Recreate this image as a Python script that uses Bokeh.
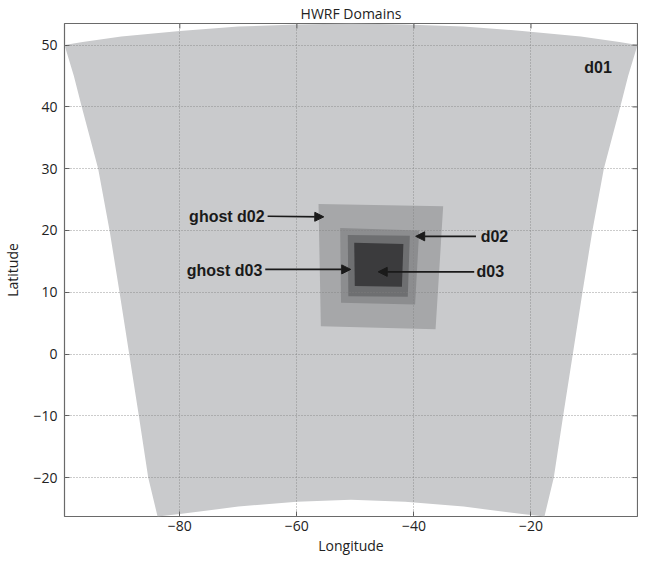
#HWRF nested domains drawn with bokeh

import math
from bokeh.plotting import figure
from bokeh.models import Range1d, FixedTicker, Arrow, NormalHead, ColumnDataSource
from bokeh.core.properties import value
from bokeh.embed import file_html
from bokeh.resources import INLINE

#### DATA ####
#d01 outline: top edge left->right, right edge down, bottom edge right->left, left edge up
d01_lon = [-99.7, -96.6, -90.0, -80.0, -70.0, -60.0, -50.75, -41.5, -31.5, -21.5, -11.5, -4.9, -1.8,
           -3.4, -4.75, -6.15, -7.55, -9.5, -11.2, -12.85, -14.5, -16.1, -17.7,
           -21.5, -31.5, -41.5, -50.75, -60.0, -70.0, -80.0, -83.8,
           -85.4, -87.0, -88.65, -90.3, -92.0, -93.95, -95.35, -96.75, -98.1]
d01_lat = [50.0, 50.5, 51.4, 52.3, 53.0, 53.35, 53.5, 53.35, 53.0, 52.3, 51.4, 50.5, 50.0,
           45.0, 40.0, 35.0, 30.0, 20.0, 10.0, 0.0, -10.0, -20.0, -26.3,
           -25.9, -24.7, -23.9, -23.6, -23.9, -24.7, -25.9, -26.3,
           -20.0, -10.0, 0.0, 10.0, 20.0, 30.0, 35.0, 40.0, 45.0]

#nested domains (corners: top-left, top-right, bottom-right, bottom-left)
ghost_d02_lon = [-56.3, -35.0, -36.3, -55.9]
ghost_d02_lat = [24.3, 23.9, 4.0, 4.5]
d02_lon = [-52.6, -39.1, -39.8, -52.45]
d02_lat = [20.4, 20.0, 8.0, 8.3]
ghost_d03_lon = [-51.3, -40.7, -41.05, -51.2]
ghost_d03_lat = [19.25, 19.15, 9.25, 9.35]
d03_lon = [-50.2, -41.8, -42.05, -50.1]
d03_lat = [18.0, 17.8, 10.9, 11.0]

domain_colors = ["#c9cacc", "#a6a7a9", "#8c8d8f", "#6e6f71", "#3b3b3d"]

#annotation labels and arrows
label_names = ["ghost d02", "d02", "ghost d03", "d03"]
label_lon = [-65.5, -28.6, -65.9, -29.3]
label_lat = [22.3, 19.1, 13.6, 13.3]
label_align = ["right", "left", "right", "left"]
tail_lon = [-65.0, -29.4, -65.4, -29.7]
tail_lat = [22.3, 19.05, 13.7, 13.3]
tip_lon = [-55.4, -39.7, -50.8, -46.1]
tip_lat = [22.2, 19.05, 13.7, 13.3]

x_min, x_max = -99.7, -1.8
y_min, y_max = -26.3, 53.5
x_ticks = [-80, -60, -40, -20]
x_tick_labels = ["\u221280", "\u221260", "\u221240", "\u221220"]
y_ticks = [-20, -10, 0, 10, 20, 30, 40, 50]
y_tick_labels = ["\u221220", "\u221210", "0", "10", "20", "30", "40", "50"]

#### FIGURE ####
p = figure(title="HWRF Domains", width=638, height=557, output_backend="svg", toolbar_location=None,
           x_range=Range1d(x_min, x_max), y_range=Range1d(y_min, y_max),
           min_border_left=63, min_border_right=1, min_border_top=0, min_border_bottom=0)

tick_font = "Open Sans"
p.title.text_font = tick_font
p.title.text_font_size = "14px"
p.title.text_font_style = "normal"
p.title.align = "center"
p.title.standoff = 2
p.title.text_color = "#222222"

#domains, outer first
p.patch(d01_lon, d01_lat, fill_color=domain_colors[0], line_color=None)
p.patch(ghost_d02_lon, ghost_d02_lat, fill_color=domain_colors[1], line_color=None)
p.patch(d02_lon, d02_lat, fill_color=domain_colors[2], line_color=None)
p.patch(ghost_d03_lon, ghost_d03_lat, fill_color=domain_colors[3], line_color=None)
p.patch(d03_lon, d03_lat, fill_color=domain_colors[4], line_color=None)

#labels
src = ColumnDataSource(dict(x=label_lon, y=label_lat, t=label_names, a=label_align,
                            x0=tail_lon, y0=tail_lat, x1=tip_lon, y1=tip_lat))
p.text(x="x", y="y", text="t", text_align="a", text_baseline="middle", source=src,
       text_font=value("Liberation Sans"), text_font_style="bold", text_font_size="16px", text_color="#1a1a1a")
p.text(x=[-10.9], y=[46.45], text=["d01"], text_align="left", text_baseline="middle",
       text_font=value("Liberation Sans"), text_font_style="bold", text_font_size="16px", text_color="#1a1a1a")
p.add_layout(Arrow(end=NormalHead(size=9, fill_color="#1a1a1a", line_color="#1a1a1a"),
                   x_start="x0", y_start="y0", x_end="x1", y_end="y1", source=src,
                   line_color="#1a1a1a", line_width=1.6))

#tick marks on the top and right edges (half of each dash is clipped by the frame)
p.scatter(x=x_ticks, y=[y_max] * len(x_ticks), marker="dash", angle=math.pi / 2, size=10,
          line_color="#555555", line_width=1)
p.scatter(x=[x_max] * len(y_ticks), y=y_ticks, marker="dash", size=10,
          line_color="#555555", line_width=1)

#axes
p.xaxis.ticker = FixedTicker(ticks=x_ticks)
p.yaxis.ticker = FixedTicker(ticks=y_ticks)
p.xaxis.major_label_overrides = dict(zip(x_ticks, x_tick_labels))
p.yaxis.major_label_overrides = dict(zip(y_ticks, y_tick_labels))
p.xaxis.axis_label = "Longitude"
p.yaxis.axis_label = "Latitude"

for ax in p.axis:
    ax.major_tick_in = 5
    ax.major_tick_out = 0
    ax.minor_tick_line_color = None
    ax.axis_line_color = None
    ax.major_tick_line_color = "#555555"
    ax.major_label_text_font = tick_font
    ax.major_label_text_font_size = "14px"
    ax.major_label_text_color = "#222222"
    ax.axis_label_text_font = tick_font
    ax.axis_label_text_font_size = "14px"
    ax.axis_label_text_font_style = "normal"
    ax.axis_label_text_color = "#222222"
    ax.major_label_standoff = 4
    ax.axis_label_standoff = 2
p.yaxis.major_label_standoff = 7
p.yaxis.axis_label_standoff = 8

p.outline_line_color = "#6a6a6a"
p.outline_line_width = 1.2

#dotted grid drawn over the domains
for g in p.grid:
    g.level = "annotation"
    g.grid_line_dash = "1 2"
    g.grid_line_color = "#808080"
    g.grid_line_alpha = 0.8
    g.ticker = FixedTicker(ticks=x_ticks if g.dimension == 0 else y_ticks)

open("out.html", "w").write(file_html(p, INLINE))
